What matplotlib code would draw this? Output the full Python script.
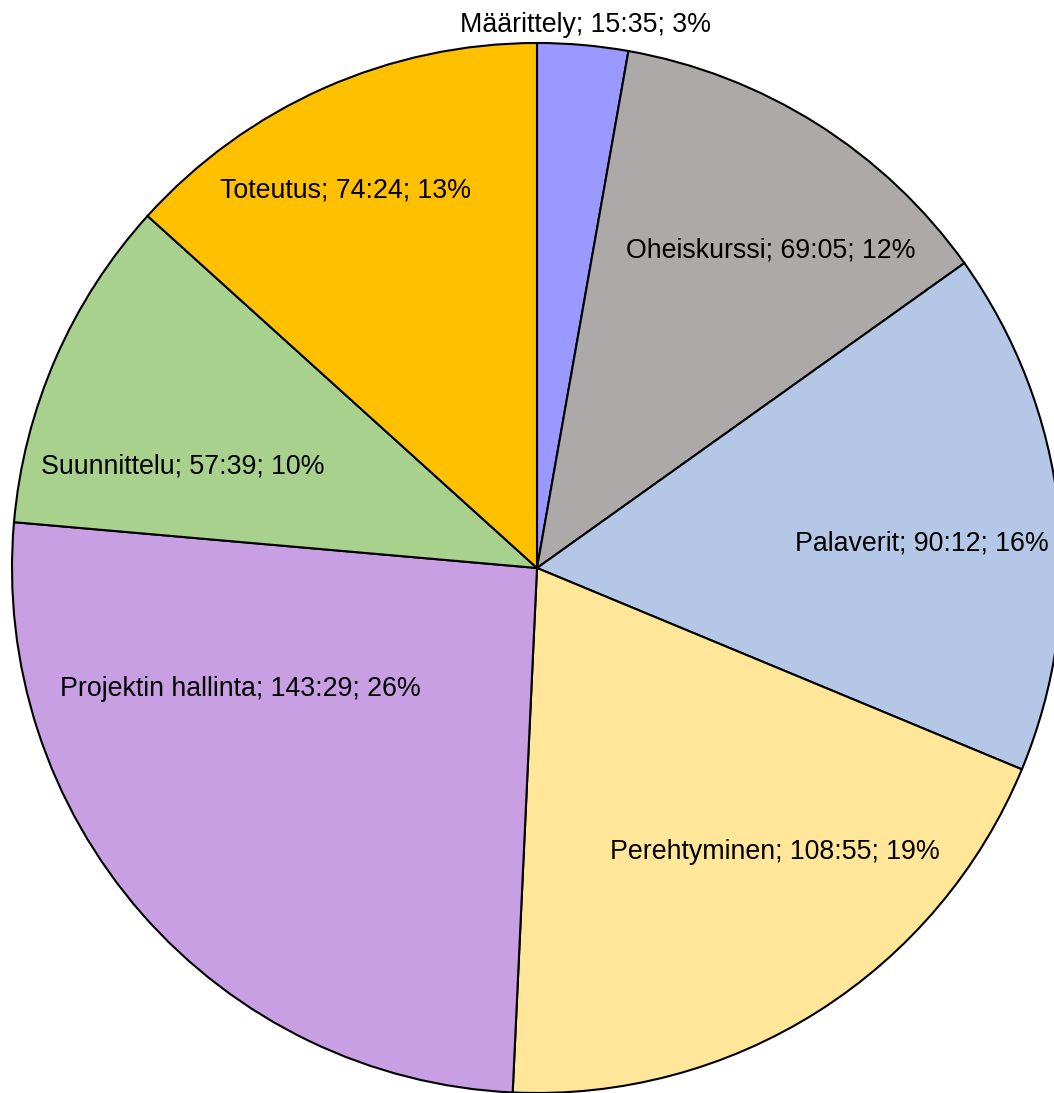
import numpy as np
from matplotlib import pyplot as plt

plt.rcParams['font.family'] = ['Liberation Sans', 'DejaVu Sans']

# Data: hours:minutes per task
tasks = ["Määrittely", "Oheiskurssi", "Palaverit", "Perehtyminen",
         "Projektin hallinta", "Suunnittelu", "Toteutus"]
times = ["15:35", "69:05", "90:12", "108:55", "143:29", "57:39", "74:24"]
percents = [3, 12, 16, 19, 26, 10, 13]

colors = ["#9999FF", "#ADA9A9", "#B4C7E7", "#FFE699",
          "#C89FE3", "#A9D18E", "#FFC000"]

# label placement: radius (fraction of pie radius) and angle shift from wedge middle (deg)
label_r = [1.038, 0.752, 0.734, 0.706, 0.610, 0.701, 0.806]
label_shift = [0.1, 4.1, 2.8, -7.6, 19.0, -7.6, -2.9]

hours = np.array([int(t.split(':')[0]) + int(t.split(':')[1]) / 60 for t in times])

W, H = 1054, 1093
cx, cy, R = 537, 568, 525

fig = plt.figure(figsize=(W / 100, H / 100), dpi=100)
ax = fig.add_axes([0, 0, 1, 1])
ax.pie(hours, colors=colors, startangle=90, counterclock=False, radius=1,
       wedgeprops=dict(edgecolor='black', linewidth=1.5))
ax.set_aspect('auto')
ax.set_xlim(-cx / R, (W - cx) / R)
ax.set_ylim(-(H - cy) / R, cy / R)
ax.axis('off')

cum = np.cumsum(hours) / hours.sum()
start = np.concatenate([[0], cum[:-1]])
mid = (start + cum) / 2 * 360
for i, name in enumerate(tasks):
    a = np.radians(mid[i] + label_shift[i])
    x = label_r[i] * np.sin(a)
    y = label_r[i] * np.cos(a)
    ax.text(x, y, f"{name}; {times[i]}; {percents[i]}%", ha='center', va='center',
            fontsize=19.3, color='black')

plt.savefig('out.png', dpi=100)
